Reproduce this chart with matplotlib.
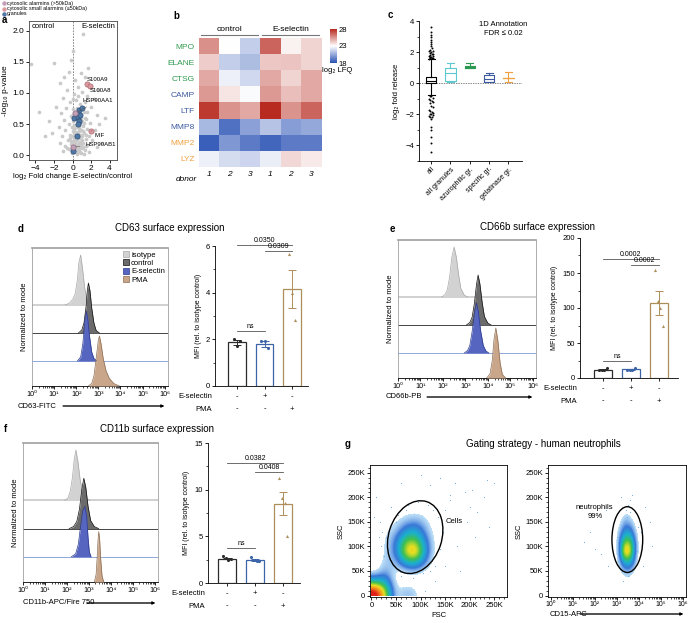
import numpy as np
import matplotlib.pyplot as plt
from matplotlib.colors import LinearSegmentedColormap
from matplotlib.patches import Ellipse, Patch
from matplotlib.ticker import MultipleLocator, FormatStrFormatter, FixedLocator

plt.rcParams['font.family'] = ['Liberation Sans', 'DejaVu Sans']
plt.rcParams['font.size'] = 5.5
plt.rcParams['axes.linewidth'] = 0.6
for k in ('xtick', 'ytick'):
    plt.rcParams[k + '.major.size'] = 2
    plt.rcParams[k + '.minor.size'] = 1.2
    plt.rcParams[k + '.major.width'] = 0.6
    plt.rcParams[k + '.minor.width'] = 0.5
    plt.rcParams[k + '.major.pad'] = 1.5
    plt.rcParams[k + '.labelsize'] = 5.5

# ---------------- data ----------------
# a: volcano plot
volc_x = [1.1, 0.0, -0.2, -2.0, -4.5, -0.4, 0.9, -1.4, 0.3, 1.3, -0.6, 0.6, 1.0, 0.2, 1.6, -1.0, 2.3, 0.4,
          -0.3, 1.3, 0.8, -1.8, 2.0, -0.7, 0.0, 0.5, 1.6, -1.2, 2.6, -0.2, 0.9, 1.4, -2.5, -0.9, 0.6, 1.9,
          2.9, -0.4, 0.2, 1.1, -1.5, 0.7, 1.6, 2.4, -0.8, 0.0, 0.4, 1.2, -2.2, -0.3, 0.9, 1.8, -1.1, 0.2,
          0.6, 1.4, -0.5, 2.1, 0.0, 0.8, -1.4, 1.1, 0.4, -0.2, 1.6, 0.7, -0.8, 2.6, 0.1, 1.0, 0.4, -0.4,
          1.3, 0.6, -1.0, 0.2, 0.9, 1.8, -0.1, 0.5, 1.2, 3.2, -3.0, 2.8, 3.5, -3.6, 1.7, -0.9,
          0.3, 0.5, 0.15, 0.35, 0.55, 0.75, 0.95, 0.25, 0.45, 0.65, 0.85, 1.05, 0.15, 0.35, 0.55, 0.75,
          0.95, 1.15, 0.05, 0.25, 0.45, 0.65, 0.85, 1.25, 1.45, -0.1, -0.15, 0.1, 0.7, 1.2,
          0.4, 0.6, 0.8, 1.0, 0.2, 0.0, 0.5, 0.9, 1.3, -0.3, 0.3, 0.7, 1.1, 1.5, -0.6, 0.1, 0.6, 1.0]
volc_y = [1.95, 1.68, 1.53, 1.48, 1.47, 1.34, 1.32, 1.16, 1.21, 1.25, 1.05, 1.1, 1.02, 0.98, 0.95, 0.92, 0.9, 0.88,
          0.85, 0.85, 0.82, 0.78, 0.78, 0.75, 0.74, 0.76, 0.7, 0.68, 0.65, 0.63, 0.6, 0.58, 0.55, 0.56, 0.55, 0.52,
          0.5, 0.5, 0.48, 0.47, 0.45, 0.44, 0.42, 0.4, 0.4, 0.38, 0.37, 0.36, 0.35, 0.33, 0.32, 0.3, 0.3, 0.28,
          0.27, 0.26, 0.25, 0.24, 0.22, 0.21, 0.2, 0.2, 0.18, 0.17, 0.16, 0.15, 0.14, 0.13, 0.12, 0.11, 0.1, 0.09,
          0.08, 0.07, 0.06, 0.05, 0.04, 0.05, 0.03, 0.02, 0.02, 0.2, 0.3, 1.05, 0.6, 0.7, 1.4, 1.25,
          0.58, 0.62, 0.42, 0.45, 0.35, 0.38, 0.41, 0.32, 0.25, 0.2, 0.28, 0.3, 0.18, 0.14, 0.11, 0.09,
          0.16, 0.13, 0.3, 0.08, 0.04, 0.32, 0.5, 0.52, 0.33, 0.45, 0.22, 0.65, 0.68, 0.7,
          0.06, 0.12, 0.05, 0.24, 0.36, 0.55, 0.47, 0.53, 0.6, 0.28, 0.22, 0.44, 0.38, 0.15, 0.12, 0.9, 0.95, 0.55]
gran_x = [0.2, 0.75, 1.05, 0.55, 0.85, 0.65, 0.55, 0.45, 0.1]
gran_y = [0.6, 0.72, 0.75, 0.62, 0.65, 0.55, 0.5, 0.3, 0.07]
big_alarm_names = ['HSP90AA1', 'HSP90AB1']
big_alarm_x = [0.3, 0.1]
big_alarm_y = [0.67, 0.13]
small_alarm_names = ['S100A9', 'S100A8', 'MIF']
small_alarm_x = [1.6, 1.85, 2.0]
small_alarm_y = [1.14, 1.12, 0.39]

# b: heatmap log2 LFQ
lfq_rows = ['MPO', 'ELANE', 'CTSG', 'CAMP', 'LTF', 'MMP8', 'MMP2', 'LYZ']
lfq_row_group = ['azu', 'azu', 'azu', 'spec', 'spec', 'spec', 'gel', 'gel']
lfq_donors = ['1', '2', '3', '1', '2', '3']
lfq = [[25.6, 23.0, 21.6, 26.6, 23.3, 24.0],
       [24.2, 21.6, 21.1, 24.3, 24.4, 24.0],
       [25.0, 22.6, 21.9, 25.0, 24.0, 25.0],
       [25.4, 23.6, 22.9, 25.4, 24.5, 25.0],
       [27.6, 25.5, 25.0, 28.0, 25.5, 26.6],
       [21.0, 18.9, 20.3, 21.3, 20.2, 20.5],
       [18.4, 20.0, 19.2, 18.6, 19.2, 19.2],
       [22.6, 22.0, 21.8, 22.5, 23.9, 23.5]]

# c: fold release boxes
c_groups = ['all', 'all granules', 'azurophilic gr.', 'specific gr.', 'gelatinase gr.']
c_med = [0.15, 0.65, 1.05, 0.3, 0.35]
c_q1 = [0.0, 0.15, 1.0, 0.1, 0.34]
c_q3 = [0.38, 1.0, 1.1, 0.55, 0.36]
c_lo = [-0.75, 0.05, 1.0, 0.05, 0.05]
c_hi = [1.55, 1.3, 1.3, 0.65, 0.7]
c_fliers = [1.58, 1.6, 1.62, 1.64, 1.66, 1.7, 1.72, 1.75, 1.8, 1.85, 1.9, 1.95, 2.0, 2.05, 2.1, 2.15,
            2.25, 2.4, 2.5, 2.65, 2.8, 2.95, 3.1, 3.3, 3.6,
            -0.8, -0.85, -0.95, -1.0, -1.05, -1.15, -1.2, -1.3, -1.45, -1.55, -1.7, -1.8, -1.85, -1.9,
            -1.95, -2.0, -2.05, -2.1, -2.15, -2.2, -2.3, -2.8, -3.0, -3.45, -3.85, -4.4]

# d-f: flow histograms, log10 fluorescence vs. normalized count (isotype, control, E-selectin, PMA)
d_hist = [([1.5, 1.7, 1.85, 1.95, 2.05, 2.12, 2.2, 2.28, 2.38, 2.5, 2.65],
           [0, 0.04, 0.12, 0.22, 0.5, 0.85, 1.0, 0.75, 0.35, 0.08, 0]),
          ([2.1, 2.25, 2.35, 2.45, 2.5, 2.55, 2.62, 2.7, 2.8, 2.9, 3.05],
           [0, 0.06, 0.2, 0.55, 0.85, 1.0, 0.85, 0.5, 0.2, 0.05, 0]),
          ([2.05, 2.2, 2.3, 2.38, 2.45, 2.52, 2.6, 2.7, 2.8, 2.95],
           [0, 0.08, 0.35, 0.8, 1.0, 0.85, 0.5, 0.18, 0.05, 0]),
          ([2.55, 2.7, 2.8, 2.9, 3.0, 3.05, 3.12, 3.22, 3.35, 3.5, 3.7, 3.95],
           [0, 0.05, 0.2, 0.55, 0.92, 1.0, 0.85, 0.55, 0.3, 0.15, 0.05, 0])]
e_hist = [([1.95, 2.1, 2.2, 2.3, 2.4, 2.5, 2.6, 2.7, 2.8, 2.95, 3.1],
           [0, 0.05, 0.15, 0.4, 0.8, 1.0, 0.8, 0.45, 0.17, 0.04, 0]),
          ([3.05, 3.2, 3.3, 3.4, 3.5, 3.57, 3.65, 3.75, 3.85, 4.0, 4.15],
           [0, 0.05, 0.15, 0.42, 0.82, 1.0, 0.82, 0.45, 0.17, 0.04, 0]),
          ([2.95, 3.1, 3.2, 3.3, 3.42, 3.5, 3.58, 3.68, 3.8, 3.92, 4.05],
           [0, 0.05, 0.15, 0.42, 0.85, 1.0, 0.82, 0.45, 0.15, 0.04, 0]),
          ([3.95, 4.1, 4.2, 4.28, 4.36, 4.45, 4.55, 4.65, 4.8],
           [0, 0.08, 0.35, 0.78, 1.0, 0.75, 0.3, 0.07, 0])]
f_hist = [([1.9, 2.05, 2.15, 2.25, 2.33, 2.41, 2.5, 2.6, 2.72, 2.85, 3.05],
           [0, 0.05, 0.18, 0.45, 0.8, 1.0, 0.78, 0.42, 0.15, 0.04, 0]),
          ([2.1, 2.3, 2.45, 2.57, 2.68, 2.77, 2.86, 2.96, 3.08, 3.25, 3.45],
           [0, 0.04, 0.14, 0.38, 0.78, 1.0, 0.82, 0.45, 0.16, 0.04, 0]),
          ([2.2, 2.4, 2.52, 2.62, 2.72, 2.82, 2.9, 2.96, 3.02, 3.1],
           [0, 0.06, 0.25, 0.6, 0.92, 1.0, 0.8, 0.4, 0.1, 0]),
          ([3.25, 3.33, 3.38, 3.42, 3.45, 3.49, 3.54, 3.6, 3.68],
           [0, 0.15, 0.5, 0.85, 1.0, 0.85, 0.45, 0.12, 0])]
hist_names = ['isotype', 'control', 'E-selectin', 'PMA']

# d-f: MFI bar charts
bar_conditions = ['control', 'E-selectin', 'PMA']
esel_signs = ['-', '+', '-']
pma_signs = ['-', '-', '+']
d_mean = [1.87, 1.80, 4.15]
d_sem = [0.12, 0.13, 0.82]
d_pts = [[2.0, 1.7, 1.92], [1.95, 1.95, 1.62], [5.65, 4.0, 2.85]]
d_sig = [('0.0350', 0, 2, 6.05), ('0.0309', 1, 2, 5.8), ('ns', 0, 1, 2.35)]
e_mean = [12.0, 12.2, 107.0]
e_sem = [0.8, 1.0, 17.5]
e_pts = [[11, 12, 12, 14], [11, 12, 12, 15], [155, 110, 100, 75]]
e_sig = [('0.0002', 0, 2, 170), ('0.0002', 1, 2, 162), ('ns', 0, 1, 24)]
f_mean = [2.62, 2.5, 8.5]
f_sem = [0.1, 0.1, 1.25]
f_pts = [[2.9, 2.7, 2.5, 2.55], [2.75, 2.5, 2.35, 2.4], [11.3, 9.1, 8.6, 5.0]]
f_sig = [('0.0382', 0, 2, 12.86), ('0.0408', 1, 2, 11.9), ('ns', 0, 1, 3.75)]

# g: gating density (rows = SSC bins of 20K from 0, cols = FSC bins of 20K from 0)
g1_density = [[10, 6, 0.6, 1.6, 1.2, 0, 0, 0, 0, 0, 0, 0, 0],
              [4, 3.5, 0.5, 0.3, 0.3, 0, 0, 0, 0, 0, 0, 0, 0],
              [0.5, 2.0, 0.5, 0.9, 1.3, 0.7, 0, 0, 0, 0, 0, 0, 0],
              [0, 1.4, 1.3, 4, 4.5, 2.2, 0.4, 0, 0, 0, 0, 0, 0],
              [0, 1.1, 2.2, 6.5, 8, 3.2, 0.6, 0, 0, 0, 0, 0, 0],
              [0, 1.0, 2.2, 5.5, 6, 2.8, 0.6, 0, 0, 0, 0, 0, 0],
              [0, 0.8, 1.4, 3.2, 3.8, 1.9, 0.5, 0, 0, 0, 0, 0, 0],
              [0, 0.5, 0.8, 1.6, 2.0, 1.3, 0.3, 0, 0, 0, 0, 0, 0],
              [0, 0, 0.2, 0.6, 0.8, 0.6, 0, 0, 0, 0, 0, 0, 0],
              [0, 0, 0, 0, 0, 0, 0, 0, 0, 0, 0, 0, 0],
              [0, 0, 0, 0, 0, 0, 0, 0, 0, 0, 0, 0, 0],
              [0, 0, 0, 0, 0, 0, 0, 0, 0, 0, 0, 0, 0],
              [0, 0, 0, 0, 0, 0, 0, 0, 0, 0, 0, 0, 0]]
g1_sparse_x = [140, 170, 190, 200, 215, 230, 160, 120, 100, 60, 40, 10, 150, 180, 210, 240, 130, 175, 195,
               250, 235, 110, 45, 30, 5, 160, 205, 135, 125, 145, 115, 95, 70, 50, 40, 130, 140, 20, 22, 18,
               25, 15, 60, 85, 105, 120, 150, 65, 75, 55]
g1_sparse_y = [240, 230, 210, 180, 170, 200, 205, 225, 245, 230, 180, 200, 60, 50, 120, 140, 30, 100, 150,
               230, 235, 10, 15, 120, 160, 195, 215, 160, 175, 130, 185, 190, 175, 150, 70, 60, 95, 100, 130,
               150, 80, 120, 40, 35, 45, 50, 175, 180, 185, 165]
# CD15 bins of 0.25 decades from 10^2.75, SSC bins of 20K from 20K
g2_density = [[0, 0, 0.5, 0.5, 0, 0],
              [0, 0.6, 1.5, 1.5, 0.6, 0],
              [0, 1.3, 4, 4, 1.3, 0],
              [0, 1.8, 8, 7, 1.8, 0],
              [0, 1.8, 5.5, 5.5, 1.8, 0],
              [0, 1.3, 3, 3, 1.1, 0],
              [0, 0.6, 1.8, 1.5, 0.5, 0],
              [0, 0, 0.8, 0.6, 0, 0],
              [0, 0, 0, 0, 0, 0]]
g2_sparse_x = [1.8, 2.0, 2.3, 1.5, 4.3, 4.5, 4.6, 2.6, 2.5, 4.2, 3.6, 3.2, 2.9, 4.1, 3.7, 3.3, 3.4, 3.5,
               3.6, 3.3, 3.0, 3.9, 3.95, 3.05, 3.5, 3.45]
g2_sparse_y = [130, 95, 85, 110, 180, 150, 100, 60, 175, 60, 195, 200, 160, 130, 205, 30, 175, 185, 170,
               180, 120, 90, 140, 70, 40, 160]

# ---------------- drawing ----------------
W, H = 688, 623
fig = plt.figure(figsize=(6.88, 6.23), dpi=100)


def px_axes(l, t, r, b):
    return fig.add_axes([l / W, 1 - b / H, (r - l) / W, (b - t) / H])


def px_text(x, y, s, **kw):
    fig.text(x / W, 1 - y / H, s, **kw)


def px_arrow(x0, x1, y):
    fig.add_artist(plt.annotate('', xy=(x1 / W, 1 - y / H), xytext=(x0 / W, 1 - y / H),
                                xycoords='figure fraction',
                                arrowprops=dict(arrowstyle='-|>', lw=0.6, color='black',
                                                mutation_scale=4, shrinkA=0, shrinkB=0)))


for lab, x, y in [('a', 2, 20), ('b', 173, 16), ('c', 388, 15), ('d', 18, 229),
                  ('e', 390, 229), ('f', 4, 429), ('g', 345, 444)]:
    px_text(x, y, lab, fontsize=7, fontweight='bold', ha='left', va='center')

# ---- a
ax = px_axes(29, 21, 117, 160)
ax.axvline(0, ls=(0, (2, 1.5)), color='#777777', lw=0.6, zorder=0)
ax.scatter(volc_x, volc_y, s=7, c='#c9c9c9', lw=0, zorder=1)
ax.scatter(gran_x, gran_y, s=14, c='#4f78a6', edgecolors='#2d4f78', lw=0.5, zorder=3)
ax.scatter(big_alarm_x, big_alarm_y, s=14, c='#c4a0b8', edgecolors='#8a6a80', lw=0.5, zorder=4)
ax.scatter(small_alarm_x, small_alarm_y, s=14, c='#dc9aa0', edgecolors='#a86a70', lw=0.5, zorder=4)
ax.set_xlim(-4.7, 4.8)
ax.set_ylim(-0.08, 2.16)
ax.set_xticks([-4, -2, 0, 2, 4])
ax.set_yticks([0, 0.5, 1, 1.5, 2])
ax.yaxis.set_major_formatter(FormatStrFormatter('%.1f'))
ax.tick_params(labelsize=6)
for sp in ax.spines.values():
    sp.set_color('#444444')
ax.text(0.03, 0.985, 'control', transform=ax.transAxes, fontsize=5.5, va='top')
ax.text(0.98, 0.985, 'E-selectin', transform=ax.transAxes, fontsize=5.5, va='top', ha='right')
ax.set_ylabel('-log₁₀ p-value', fontsize=6, labelpad=2)
ax.set_xlabel('log₂ Fold change E-selectin/control', fontsize=5.5, labelpad=1)
ann = dict(fontsize=4.3, zorder=5)
ax.text(1.55, 1.2, 'S100A9', **ann)
ax.text(1.85, 1.02, 'S100A8', **ann)
ax.annotate('HSP90AA1', xy=(0.3, 0.67), xytext=(1.1, 0.86), arrowprops=dict(arrowstyle='-', lw=0.4, color='#555'), **ann)
ax.annotate('MIF', xy=(2.0, 0.39), xytext=(2.4, 0.29), arrowprops=dict(arrowstyle='-', lw=0.4, color='#555'), **ann)
ax.annotate('HSP90AB1', xy=(0.1, 0.13), xytext=(1.4, 0.14), arrowprops=dict(arrowstyle='-', lw=0.4, color='#555'), **ann)
for i, (lbl, col) in enumerate([('cytosolic alarmins (>50kDa)', '#c4a0b8'),
                                ('cytosolic small alarmins (≤50kDa)', '#dc9aa0'),
                                ('granules', '#4f78a6')]):
    y = 3 + 5.5 * i
    fig.add_artist(plt.Line2D([4 / W], [1 - y / H], marker='o', ms=2.2, color=col, lw=0,
                              transform=fig.transFigure))
    px_text(7, y, lbl, fontsize=3.8, va='center')

# ---- b
ax = px_axes(199, 28, 321, 167)
heat_cmap = LinearSegmentedColormap.from_list('bwr2', ['#2a52b5', '#ffffff', '#b82a20'])
im = ax.imshow(np.array(lfq), cmap=heat_cmap, vmin=18, vmax=28, aspect='auto')
ax.set_yticks(range(len(lfq_rows)))
ax.set_yticklabels(lfq_rows, fontsize=6)
group_col = {'azu': '#2e9a4e', 'spec': '#3d5a9e', 'gel': '#f0a040'}
for t, g in zip(ax.get_yticklabels(), lfq_row_group):
    t.set_color(group_col[g])
ax.set_xticks(range(6))
ax.set_xticklabels(lfq_donors, fontsize=6, style='italic')
ax.tick_params(length=0, pad=3)
for sp in ax.spines.values():
    sp.set_visible(False)
ax.text(-0.6, 8.05, 'donor', fontsize=6, style='italic', ha='right', va='top')
for x0, x1, lbl in [(-0.4, 2.4, 'control'), (2.6, 5.4, 'E-selectin')]:
    ax.plot([x0, x1], [-0.72, -0.72], color='#777777', lw=0.8, clip_on=False)
    ax.text((x0 + x1) / 2, -0.82, lbl, fontsize=6, ha='center', va='bottom')
cax = px_axes(330, 29, 337, 63)
cb = fig.colorbar(im, cax=cax, ticks=[18, 23, 28])
cb.outline.set_visible(False)
cax.tick_params(length=0, labelsize=5.5, pad=1)
px_text(322, 71, 'log₂ LFQ', fontsize=5.5, va='center')

# ---- c
ax = px_axes(419, 21, 522, 161)
c_colors = ['black', '#5ec8d0', '#2a9a50', '#3d5a9e', '#f0a040']
for i in range(len(c_groups)):
    st = dict(med=c_med[i], q1=c_q1[i], q3=c_q3[i], whislo=c_lo[i], whishi=c_hi[i], fliers=[])
    pr = dict(color=c_colors[i], lw=0.8)
    ax.bxp([st], positions=[i], widths=0.55, boxprops=pr, medianprops=pr, whiskerprops=pr,
           capprops=pr, showfliers=False, capwidths=[0.35])
jit = np.array([-0.12, -0.04, 0.04, 0.12, -0.08, 0.0, 0.08])
fl = np.array(c_fliers)
ax.scatter(0 + jit[np.arange(len(fl)) % len(jit)] * (np.abs(fl) < 2.3), fl, s=2, c='black', lw=0, zorder=3)
ax.axhline(0, ls=(0, (2, 1.5)), color='#555555', lw=0.5, zorder=0)
ax.set_xlim(-0.63, 4.7)
ax.set_ylim(-5, 4)
ax.set_yticks([-4, -2, 0, 2, 4])
ax.yaxis.set_minor_locator(MultipleLocator(1))
ax.set_xticks(range(len(c_groups)))
ax.set_xticklabels(c_groups, rotation=45, ha='right', rotation_mode='anchor', fontsize=5)
ax.spines[['top', 'right']].set_visible(False)
ax.set_ylabel('log₂ fold release', fontsize=5.5, labelpad=4)
ax.text(3.75, 3.75, '1D Annotation', fontsize=5.5, ha='center', va='center')
ax.text(3.75, 3.2, 'FDR ≤ 0.02', fontsize=5.5, ha='center', va='center')

# ---- d-f histograms
track_base = [81, 53, 25, 0]
hist_fill = ['#d2d2d2', '#6b6b6b', '#5565c0', '#c9a68a']
hist_edge = ['#a8a8a8', '#111111', '#2c3a8c', '#8c6e55']
base_col = ['#c8c8c8', '#444444', '#8fa8d8', 'black']
base_lw = [1.2, 0.7, 0.7, 0.6]


def draw_hist(ax, peaks, legend=False):
    for i, (xs, ys) in enumerate(peaks):
        b = track_base[i]
        if b > 0:
            ax.axhline(b, color=base_col[i], lw=base_lw[i], zorder=2 * i)
        top = b + 50 * np.array(ys)
        ax.fill_between(xs, b, top, color=hist_fill[i], lw=0, zorder=2 * i + 1)
        ax.plot(xs, top, color=hist_edge[i], lw=0.5, zorder=2 * i + 1)
    ax.set_xlim(0, 6.15)
    ax.set_ylim(0, 138)
    ax.set_yticks([])
    ax.set_xticks(range(7))
    ax.set_xticklabels(['10' + s for s in '⁰¹²³⁴⁵⁶'], fontsize=5.2)
    ax.xaxis.set_minor_locator(FixedLocator([d + np.log10(m) for d in range(6) for m in range(2, 10)]))
    for k in ('left', 'right', 'top'):
        ax.spines[k].set_color('#a0a0a0')
    ax.spines['top'].set_linewidth(1.2)
    ax.set_ylabel('Normalized to mode', fontsize=5.5, labelpad=3)
    if legend:
        hs = [Patch(facecolor=hist_fill[i], edgecolor=hist_edge[i], lw=0.5) for i in range(4)]
        ax.legend(hs, hist_names, loc='upper right', frameon=False, fontsize=5.5, handlelength=0.8,
                  handleheight=0.8, handletextpad=0.3, labelspacing=0.1, borderaxespad=0.2,
                  borderpad=0.2)


bar_col = ['#2b2b2b', '#3c64a8', '#ad8d5a']
bar_mark = ['o', 'o', '^']
jitters = {3: [-0.12, 0.0, 0.12], 4: [-0.15, -0.05, 0.05, 0.15]}


def draw_bars(ax, means, sems, pts, sig, ylim, major, minor, xlim):
    for i in range(3):
        ax.bar(i, means[i], width=0.64, facecolor='white', edgecolor=bar_col[i], lw=0.9, zorder=2)
        ax.errorbar(i, means[i], yerr=sems[i], color=bar_col[i], capsize=2.8, lw=0.7, capthick=0.7, zorder=3)
        ax.scatter(i + np.array(jitters[len(pts[i])]), pts[i], marker=bar_mark[i], s=5, c=bar_col[i],
                   lw=0, zorder=4)
    for lbl, x0, x1, y in sig:
        ax.plot([x0, x1], [y, y], color='#555555', lw=0.6, clip_on=False)
        ax.text((x0 + x1) / 2, y + ylim * 0.005, lbl, ha='center', va='bottom', fontsize=5)
    ax.set_xlim(*xlim)
    ax.set_ylim(0, ylim)
    ax.yaxis.set_major_locator(MultipleLocator(major))
    ax.yaxis.set_minor_locator(MultipleLocator(minor))
    ax.set_xticks(range(3))
    ax.set_xticklabels([])
    ax.spines[['top', 'right']].set_visible(False)
    ax.set_ylabel('MFI (rel. to isotype control)', fontsize=5, labelpad=3)
    tr = ax.get_xaxis_transform()
    for i in range(3):
        ax.text(i, -0.075, esel_signs[i], transform=tr, ha='center', va='center', fontsize=5.5)
        ax.text(i, -0.165, pma_signs[i], transform=tr, ha='center', va='center', fontsize=5.5)
    ax.text(-0.03, -0.075, 'E-selectin', transform=ax.transAxes, ha='right', va='center', fontsize=5.5)
    ax.text(-0.03, -0.165, 'PMA', transform=ax.transAxes, ha='right', va='center', fontsize=5.5)


# d
px_text(170, 228, 'CD63 surface expression', fontsize=7, ha='center', va='center')
ax = px_axes(32, 248, 168, 386)
draw_hist(ax, d_hist, legend=True)
px_text(18, 406, 'CD63-FITC', fontsize=5.5, va='center')
px_arrow(63, 164, 406)
ax = px_axes(215, 246, 308, 386)
draw_bars(ax, d_mean, d_sem, d_pts, d_sig, 6, 2, 1, (-0.8, 2.58))

# e
px_text(537, 227, 'CD66b surface expression', fontsize=7, ha='center', va='center')
ax = px_axes(398, 240, 536, 378)
draw_hist(ax, e_hist)
px_text(386, 397, 'CD66b-PB', fontsize=5.5, va='center')
px_arrow(427, 532, 397)
ax = px_axes(580, 238, 678, 378)
draw_bars(ax, e_mean, e_sem, e_pts, e_sig, 200, 50, 25, (-0.82, 2.68))

# f
px_text(157, 429, 'CD11b surface expression', fontsize=7, ha='center', va='center')
ax = px_axes(23, 443, 158, 582)
draw_hist(ax, f_hist)
px_text(23, 603, 'CD11b-APC/Fire 750', fontsize=5.5, va='center')
px_arrow(87, 155, 603)
ax = px_axes(208, 443, 300, 583)
draw_bars(ax, f_mean, f_sem, f_pts, f_sig, 15, 5, 2.5, (-0.68, 2.6))

# ---- g
px_text(543, 444, 'Gating strategy - human neutrophils', fontsize=7, ha='center', va='center')
dens_cmap = LinearSegmentedColormap.from_list('flow', [(0.55, 0.78, 0.95, 0.55), '#3a78d8', '#1ab0d0',
                                                       '#40c050', '#e8e020', '#f59020', '#e02018'])
dens_cmap.set_under((1, 1, 1, 0))

ax = px_axes(370, 465, 507, 597)
ax.imshow(np.array(g1_density), origin='lower', extent=(0, 260, 0, 260), aspect='auto', cmap=dens_cmap,
          vmin=0.9, vmax=9, interpolation='bicubic', zorder=1)
ax.scatter(g1_sparse_x, g1_sparse_y, s=0.7, c='#6aaee2', lw=0, zorder=2)
ax.add_patch(Ellipse((89, 119), 108, 152, angle=-18, fill=False, lw=1.0, color='black', zorder=3))
ax.text(152, 148, 'Cells', fontsize=5.5)
ax.set_xlim(-3, 276)
ax.set_ylim(-3, 266)
kt = [0, 50, 100, 150, 200, 250]
kl = ['0', '50K', '100K', '150K', '200K', '250K']
ax.set_xticks(kt)
ax.set_xticklabels(kl)
ax.set_yticks(kt)
ax.set_yticklabels(kl)
ax.xaxis.set_minor_locator(MultipleLocator(10))
ax.yaxis.set_minor_locator(MultipleLocator(10))
ax.set_xlabel('FSC', fontsize=5.5, labelpad=2)
ax.set_ylabel('SSC', fontsize=5.5, labelpad=2)

ax = px_axes(548, 465, 686, 597)
ax.imshow(np.array(g2_density), origin='lower', extent=(2.75, 4.25, 20, 200), aspect='auto', cmap=dens_cmap,
          vmin=0.9, vmax=9, interpolation='bicubic', zorder=1)
ax.scatter(g2_sparse_x, g2_sparse_y, s=0.7, c='#6aaee2', lw=0, zorder=2)
ax.add_patch(Ellipse((3.48, 114), 1.4, 134, angle=0, fill=False, lw=1.0, color='black', zorder=3))
ax.text(2.0, 170, 'neutrophils\n99%', fontsize=5.5, ha='center', va='center', linespacing=1.3)
ax.set_xlim(-0.13, 6.15)
ax.set_ylim(-3, 266)
ax.set_xticks(range(7))
ax.set_xticklabels(['10' + s for s in '⁰¹²³⁴⁵⁶'], fontsize=5)
ax.tick_params(axis='x', pad=0.8)
ax.xaxis.set_minor_locator(FixedLocator([d + np.log10(m) for d in range(6) for m in range(2, 10)]))
ax.set_yticks(kt)
ax.set_yticklabels(kl)
ax.yaxis.set_minor_locator(MultipleLocator(10))
ax.set_ylabel('SSC', fontsize=5.5, labelpad=2)
px_text(550, 614, 'CD15-APC', fontsize=5.5, va='center')
px_arrow(580, 683, 614)

fig.savefig('out.png', dpi=100)
